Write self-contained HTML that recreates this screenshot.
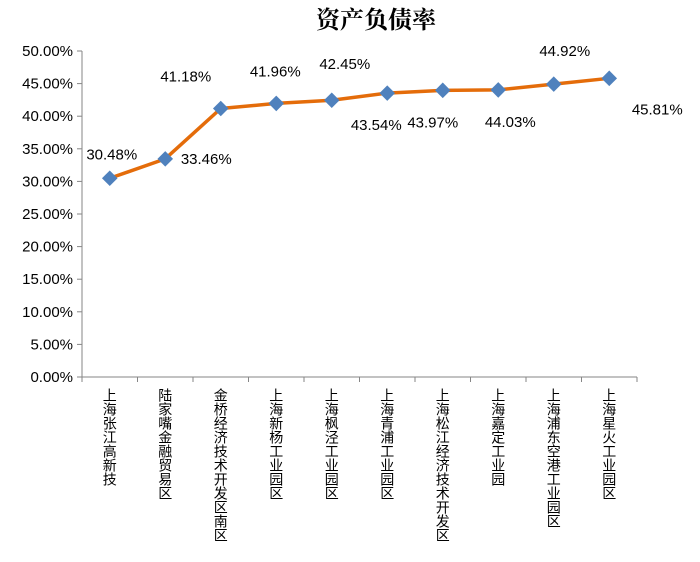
<!DOCTYPE html>
<html><head><meta charset="utf-8"><style>
body{margin:0;background:#fff;width:700px;height:562px;overflow:hidden}
svg{display:block}
</style></head><body>
<svg id="c" width="700" height="562" font-family="'Liberation Sans','Noto Sans CJK SC',sans-serif">
<text x="376" y="28" text-anchor="middle" font-size="24" font-weight="bold" font-family="'Liberation Serif','Noto Serif CJK SC',serif">资产负债率</text>
</svg>
<script>
const categories=["上海张江高新技","陆家嘴金融贸易区","金桥经济技术开发区南区","上海新杨工业园区","上海枫泾工业园区","上海青浦工业园区","上海松江经济技术开发区","上海嘉定工业园","上海浦东空港工业园区","上海星火工业园区"];
const values=[30.48,33.46,41.18,41.96,42.45,43.54,43.97,44.03,44.92,45.81];
const yTicks=[0,5,10,15,20,25,30,35,40,45,50];
const ns="http://www.w3.org/2000/svg",svg=document.getElementById('c');
const x0=82,x1=637,y0=377,y1=51;
const band=(x1-x0)/categories.length;
const xS=i=>x0+band*(i+0.5);
const yS=v=>y0-(v/50)*(y0-y1);
function mk(t,a,p){const e=document.createElementNS(ns,t);for(const k in a)e.setAttribute(k,a[k]);(p||svg).appendChild(e);return e;}
let e=mk('line',{x1:x0,y1:y1,x2:x0,y2:y0,stroke:'#868686'});


e=mk('line',{x1:x0,y1:y0,x2:x1,y2:y0,stroke:'#868686'});


yTicks.forEach(t=>{
 const y=yS(t);
 mk('line',{x1:x0-5,y1:y,x2:x0,y2:y,stroke:'#868686'});
 const tx=mk('text',{x:x0-9,y:y+5,'text-anchor':'end','font-size':15,fill:'#000'});
 tx.textContent=t.toFixed(2)+'%';
 
 
});
for(let i=0;i<=categories.length;i++){const x=x0+band*i;mk('line',{x1:x,y1:y0,x2:x,y2:y0+5,stroke:'#868686'});}
categories.forEach((c,i)=>{
 const tx=mk('text',{x:xS(i),y:388,'font-size':14,fill:'#000',style:'writing-mode:vertical-rl;glyph-orientation-vertical:0'});
 tx.textContent=c;
 
 
});
const pts=values.map((v,i)=>xS(i)+','+yS(v)).join(' ');
e=mk('polyline',{points:pts,fill:'none',stroke:'#E46C0A','stroke-width':3.5,'stroke-linejoin':'round'});


const off=[[2,-24],[41,0],[-35,-32],[-1,-32],[13,-36],[-11,32],[-10,32],[12,32],[11,-33],[48,31]];
values.forEach((v,i)=>{
 const x=xS(i),y=yS(v);
 const m=mk('rect',{x:x-5.5,y:y-5.5,width:11,height:11,fill:'#4F81BD',transform:`rotate(45 ${x} ${y})`});
 
 
 const o=off[i];
 const t=mk('text',{x:x+o[0],y:y+o[1]+5,'text-anchor':'middle','font-size':15,fill:'#000'});
 t.textContent=v.toFixed(2)+'%';
 
 
});
</script>
</body></html>
